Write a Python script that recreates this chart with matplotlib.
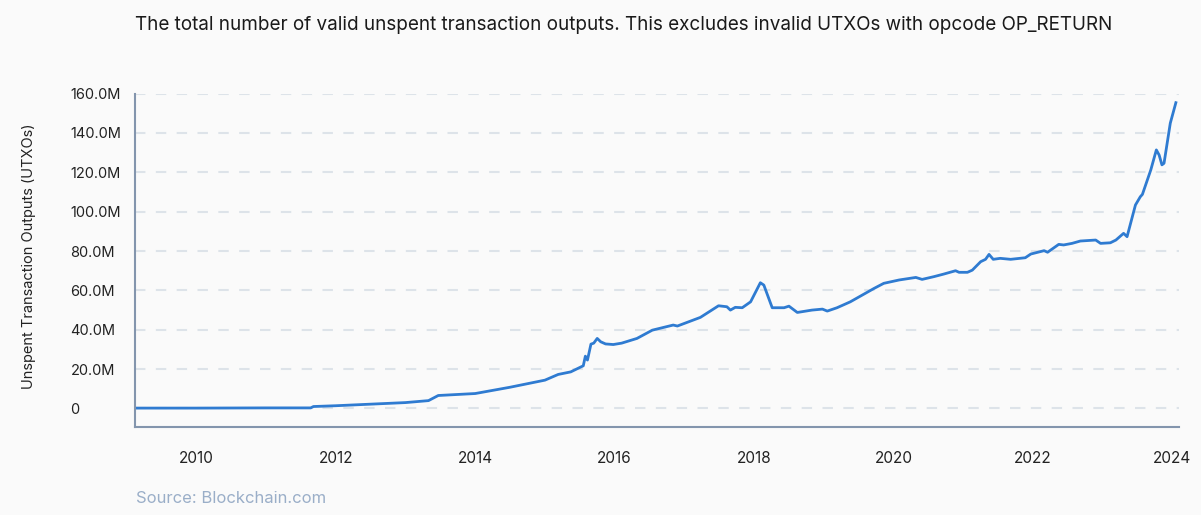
import matplotlib
matplotlib.use("Agg")
import matplotlib.pyplot as plt
import numpy as np

# UTXO count (millions), x in decimal years
years = [2009.12, 2010.0, 2011.0, 2011.64, 2011.68, 2012.0, 2012.5, 2013.0, 2013.33,
         2013.47, 2014.0, 2014.5, 2015.0, 2015.19, 2015.37, 2015.55, 2015.58, 2015.61,
         2015.66, 2015.70, 2015.75, 2015.80, 2015.87, 2015.98, 2016.1, 2016.32, 2016.54,
         2016.84, 2016.90, 2017.23, 2017.49, 2017.61, 2017.66, 2017.73, 2017.83, 2017.95,
         2018.09, 2018.14, 2018.26, 2018.43, 2018.50, 2018.62, 2018.83, 2018.98, 2019.05,
         2019.19, 2019.38, 2019.72, 2019.86, 2020.08, 2020.32, 2020.41, 2020.58, 2020.72,
         2020.89, 2020.94, 2021.06, 2021.13, 2021.25, 2021.32, 2021.37, 2021.43, 2021.53,
         2021.68, 2021.89, 2021.97, 2022.16, 2022.21, 2022.37, 2022.44, 2022.56, 2022.68,
         2022.90, 2022.97, 2023.11, 2023.19, 2023.30, 2023.35, 2023.47, 2023.54, 2023.57,
         2023.69, 2023.77, 2023.81, 2023.85, 2023.88, 2023.97, 2024.05]
utxos = [0.2, 0.2, 0.3, 0.3, 1.0, 1.4, 2.2, 3.0, 4.0,
         6.6, 7.6, 10.8, 14.4, 17.3, 18.6, 21.7, 26.6, 24.6,
         32.7, 33.2, 35.6, 33.9, 32.8, 32.5, 33.2, 35.6, 39.8,
         42.4, 41.9, 46.3, 52.2, 51.7, 50.0, 51.4, 51.2, 54.2,
         63.9, 62.7, 51.2, 51.2, 52.0, 48.8, 50.0, 50.5, 49.5,
         51.2, 54.2, 61.0, 63.6, 65.3, 66.6, 65.6, 67.0, 68.3,
         70.0, 69.2, 69.2, 70.3, 74.6, 75.8, 78.3, 75.8, 76.3,
         75.8, 76.6, 78.5, 80.2, 79.4, 83.4, 83.1, 83.9, 85.1,
         85.6, 83.9, 84.2, 85.6, 89.0, 87.3, 103.4, 107.6, 108.8,
         121.2, 131.4, 128.8, 123.8, 124.6, 145.0, 155.4]

ytick_vals = [0, 20, 40, 60, 80, 100, 120, 140, 160]
ytick_labels = ["0", "20.0M", "40.0M", "60.0M", "80.0M", "100.0M", "120.0M", "140.0M", "160.0M"]
xtick_vals = [2010, 2012, 2014, 2016, 2018, 2020, 2022, 2024]

bg = "#fafafa"
plt.rcParams["font.family"] = ["Inter", "DejaVu Sans"]

fig = plt.figure(figsize=(12.01, 5.15), dpi=100, facecolor=bg)
ax = fig.add_axes([0.1124, 0.1709, 0.869, 0.6473])
ax.set_facecolor(bg)

ax.plot(years, utxos, color="#2f7bd1", lw=2.0, solid_joinstyle="round")

ax.set_xlim(2009.12, 2024.09)
ax.set_ylim(-9.4, 160)
ax.set_yticks(ytick_vals)
ax.set_yticklabels(ytick_labels)
ax.set_xticks(xtick_vals)
ax.set_xticklabels([str(v) for v in xtick_vals])

ax.grid(axis="y", color="#dde3e9", lw=1.5, linestyle=(0, (5, 5)))
ax.set_axisbelow(True)
for s in ["top", "right"]:
    ax.spines[s].set_visible(False)
for s in ["left", "bottom"]:
    ax.spines[s].set_color("#8395ad")
    ax.spines[s].set_linewidth(1.5)

ax.tick_params(axis="both", length=0, colors="#222222")
ax.tick_params(axis="y", pad=46.5, labelsize=10.5)
for lbl in ax.get_yticklabels():
    lbl.set_horizontalalignment("left")
ax.tick_params(axis="x", pad=17, labelsize=11)

ax.set_ylabel("Unspent Transaction Outputs (UTXOs)", fontsize=10.5, color="#222222")
ax.yaxis.set_label_coords(-0.0953, 0.5115)

fig.text(0.5195, 0.951, "The total number of valid unspent transaction outputs. This excludes invalid UTXOs with opcode OP_RETURN",
         ha="center", va="center", fontsize=13.6, color="#1a1a1a")
fig.text(0.1132, 0.033, "Source: Blockchain.com", ha="left", va="center", fontsize=12, color="#9aaec8")

fig.savefig("out.png", dpi=100, facecolor=bg)
